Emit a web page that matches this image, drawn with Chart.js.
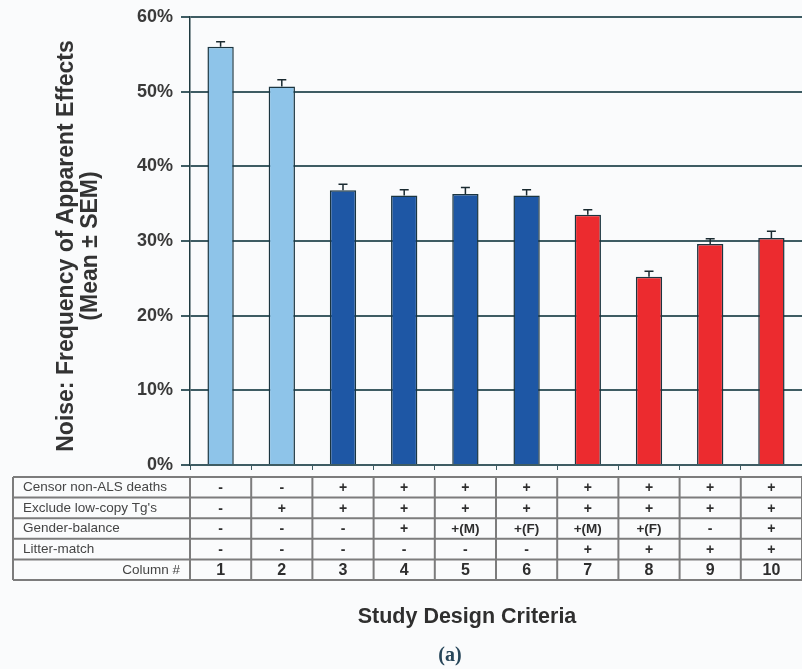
<!DOCTYPE html>
<html>
<head>
<meta charset="utf-8">
<script src="https://cdn.jsdelivr.net/npm/chart.js@4/dist/chart.umd.min.js"></script>
<style>
  html, body { margin: 0; padding: 0; background: #fafbfc; }
  #wrap { width: 802px; height: 669px; }
</style>
</head>
<body>
<div id="wrap"><canvas id="c" width="802" height="669"></canvas></div>
<script>
// Study design columns and the noise level measured under each
const columns = ['1', '2', '3', '4', '5', '6', '7', '8', '9', '10'];
const noiseMean = [56.0, 50.7, 36.8, 36.1, 36.3, 36.1, 33.5, 25.2, 29.6, 30.4];
const noiseSem = [0.7, 0.9, 0.8, 0.75, 0.85, 0.75, 0.7, 0.75, 0.7, 0.9];
const barColors = ['#8ec4e9', '#8ec4e9', '#1e57a5', '#1e57a5', '#1e57a5', '#1e57a5',
                   '#ec2b2f', '#ec2b2f', '#ec2b2f', '#ec2b2f'];

// Criteria table shown under the bars
const rowLabels = ['Censor non-ALS deaths', "Exclude low-copy Tg's", 'Gender-balance', 'Litter-match'];
const censorRow = ['-', '-', '+', '+', '+', '+', '+', '+', '+', '+'];
const excludeRow = ['-', '+', '+', '+', '+', '+', '+', '+', '+', '+'];
const genderRow = ['-', '-', '-', '+', '+(M)', '+(F)', '+(M)', '+(F)', '-', '+'];
const litterRow = ['-', '-', '-', '-', '-', '-', '+', '+', '+', '+'];
const criteriaRows = [censorRow, excludeRow, genderRow, litterRow];

const yTicks = [0, 10, 20, 30, 40, 50, 60];
const yTitleLines = ['Noise: Frequency of Apparent Effects', '(Mean \u00b1 SEM)'];

const GRID = '#3e5c63';
const SANS = 'Arial, "Liberation Sans", sans-serif';

// SEM whiskers on top of each bar
const errorBars = {
  id: 'errorBars',
  afterDatasetsDraw(chart) {
    const { ctx, scales: { y } } = chart;
    const meta = chart.getDatasetMeta(0);
    ctx.save();
    ctx.strokeStyle = '#1a2a30';
    ctx.lineWidth = 1.5;
    meta.data.forEach((bar, i) => {
      const top = y.getPixelForValue(noiseMean[i] + noiseSem[i]);
      const base = y.getPixelForValue(noiseMean[i]);
      ctx.beginPath();
      ctx.moveTo(bar.x, base);
      ctx.lineTo(bar.x, top);
      ctx.moveTo(bar.x - 4.5, top);
      ctx.lineTo(bar.x + 4.5, top);
      ctx.stroke();
    });
    ctx.restore();
  }
};

// Rotated two-line axis title beside the value ticks
const yTitle = {
  id: 'yTitle',
  afterDraw(chart) {
    const { ctx } = chart;
    ctx.save();
    ctx.fillStyle = '#333333';
    ctx.font = 'bold 23px ' + SANS;
    ctx.textAlign = 'center';
    ctx.textBaseline = 'middle';
    const cy = 246;
    [67, 91].forEach((cx, i) => {
      ctx.save();
      ctx.translate(cx, cy);
      ctx.rotate(-Math.PI / 2);
      ctx.fillText(yTitleLines[i], 0, 0);
      ctx.restore();
    });
    ctx.restore();
  }
};

// Criteria table, caption and panel letter
const criteriaTable = {
  id: 'criteriaTable',
  afterDraw(chart) {
    const { ctx, scales: { x, y } } = chart;
    const n = columns.length;
    const cw = (x.right - x.left) / n;
    const top = y.getPixelForValue(0) + 12;
    const rh = 20.6;
    const nRows = rowLabels.length + 1;
    const left = 13;
    const bottom = top + rh * nRows;

    ctx.save();
    ctx.strokeStyle = '#7c7c7c';
    ctx.lineWidth = 2;
    // horizontal rules
    for (let r = 0; r <= nRows; r++) {
      const yy = top + r * rh;
      ctx.beginPath();
      ctx.moveTo(left, yy);
      ctx.lineTo(x.right, yy);
      ctx.stroke();
    }
    // vertical rules
    ctx.beginPath();
    ctx.moveTo(left, top);
    ctx.lineTo(left, bottom);
    ctx.stroke();
    for (let c = 0; c <= n; c++) {
      const xx = x.left + c * cw;
      ctx.beginPath();
      ctx.moveTo(xx, top);
      ctx.lineTo(xx, bottom);
      ctx.stroke();
    }

    ctx.textBaseline = 'middle';
    // row labels
    ctx.fillStyle = '#454545';
    ctx.font = '13.5px ' + SANS;
    ctx.textAlign = 'left';
    rowLabels.forEach((lab, r) => {
      ctx.fillText(lab, left + 10, top + r * rh + rh / 2);
    });
    ctx.textAlign = 'right';
    ctx.fillText('Column #', x.left - 10, top + 4 * rh + rh / 2 + 1);

    // cell marks
    ctx.textAlign = 'center';
    ctx.fillStyle = '#2e2e2e';
    criteriaRows.forEach((row, r) => {
      row.forEach((v, i) => {
        ctx.font = (v.length > 1 ? 'bold 13.5px ' : 'bold 14px ') + SANS;
        ctx.fillText(v, x.getPixelForValue(i), top + r * rh + rh / 2 + 1);
      });
    });
    ctx.font = 'bold 16px ' + SANS;
    columns.forEach((lab, i) => {
      ctx.fillText(lab, x.getPixelForValue(i), top + 4 * rh + rh / 2 + 1);
    });

    // caption
    ctx.fillStyle = '#2f2f2f';
    ctx.font = 'bold 21.5px ' + SANS;
    ctx.fillText('Study Design Criteria', 467, 617);
    ctx.fillStyle = '#27465a';
    ctx.font = 'bold 20px "Liberation Serif", "DejaVu Serif", serif';
    ctx.fillText('(a)', 450, 656);
    ctx.restore();
  }
};

new Chart(document.getElementById('c'), {
  type: 'bar',
  data: {
    labels: columns,
    datasets: [{
      data: noiseMean,
      backgroundColor: barColors,
      borderColor: '#1b3540',
      borderWidth: 1.5,
      categoryPercentage: 1,
      barPercentage: 0.43
    }]
  },
  options: {
    responsive: false,
    animation: false,
    layout: { padding: { top: 15, right: 0, bottom: 0, left: 0 } },
    plugins: { legend: { display: false }, tooltip: { enabled: false } },
    scales: {
      x: {
        offset: true,
        ticks: { display: false },
        grid: { display: true, drawOnChartArea: false, offset: true, tickLength: 5, color: GRID, lineWidth: 1 },
        border: { display: false },
        afterFit(scale) { scale.height = 204; }
      },
      y: {
        min: 0,
        max: 60,
        afterBuildTicks(scale) { scale.ticks = yTicks.map(v => ({ value: v })); },
        ticks: {
          padding: 8,
          color: '#3a3a3a',
          font: { family: SANS, size: 18, weight: 'bold', lineHeight: 1 },
          callback: v => v + '%'
        },
        grid: { color: GRID, lineWidth: 2, tickLength: 9 },
        border: { display: true, color: '#1f3a40', width: 1.5 },
        afterFit(scale) { scale.width = 190; }
      }
    }
  },
  plugins: [errorBars, yTitle, criteriaTable]
});
</script>
</body>
</html>
